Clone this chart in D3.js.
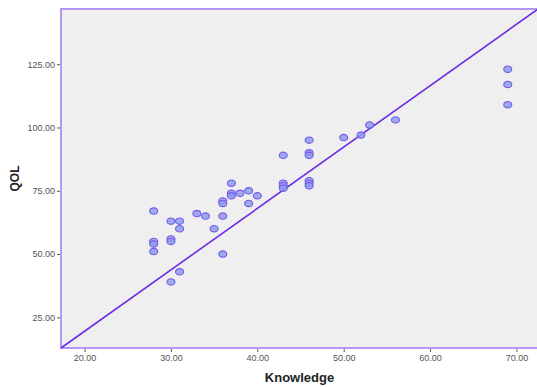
<!DOCTYPE html>
<html>
<head>
<meta charset="utf-8">
<style>
  body { margin: 0; background: #fff; }
  svg { display: block; }
  .tick text { font-family: "Liberation Sans", Arial, sans-serif; font-size: 9px; fill: #555; }
</style>
<title>QOL vs Knowledge</title>
</head>
<body>
<script src="https://cdn.jsdelivr.net/npm/d3@7/dist/d3.min.js"></script>
<script>

var knowledge = [28, 28, 28, 28, 30, 30, 30, 30, 31, 31, 31, 33, 34, 35, 36, 36, 36, 36,
                 37, 37, 37, 38, 39, 39, 40, 43, 43, 43, 43, 46, 46, 46, 46, 46, 46,
                 50, 52, 53, 56, 69, 69, 69];
var qol       = [67, 55, 54, 51, 63, 56, 55, 39, 63, 60, 43, 66, 65, 60, 65, 71, 70, 50,
                 78, 74, 73, 74, 75, 70, 73, 89, 78, 77, 76, 95, 90, 89, 79, 78, 77,
                 96, 97, 101, 103, 123, 117, 109];
var xTicks = [20, 30, 40, 50, 60, 70];
var yTicks = [25, 50, 75, 100, 125];

var width = 537, height = 387;
var margin = {top: 9, right: -1, bottom: 39, left: 61};

var svg = d3.select("body").append("svg")
  .attr("width", width)
  .attr("height", height);

var x = d3.scaleLinear().domain([17.27, 72.5]).range([margin.left, width - margin.right]);
var y = d3.scaleLinear().domain([12.9, 146.8]).range([height - margin.bottom, margin.top]);

// plot background
svg.append("rect")
  .attr("x", x.range()[0])
  .attr("y", y.range()[1])
  .attr("width", x.range()[1] - x.range()[0])
  .attr("height", y.range()[0] - y.range()[1])
  .attr("fill", "#efefef");

// axes
var xAxis = svg.append("g")
  .attr("transform", "translate(0," + y.range()[0] + ")")
  .call(d3.axisBottom(x).tickValues(xTicks).tickSize(4).tickPadding(3).tickFormat(d3.format(".2f")));
var yAxis = svg.append("g")
  .attr("transform", "translate(" + x.range()[0] + ",0)")
  .call(d3.axisLeft(y).tickValues(yTicks).tickSize(4).tickPadding(2).tickFormat(d3.format(".2f")));
[xAxis, yAxis].forEach(function(a) {
  a.select(".domain").remove();
  a.selectAll(".tick line").attr("stroke", "#555");
});

// border
svg.append("path")
  .attr("d", "M" + x.range()[1] + "," + y.range()[1] +
             " H" + x.range()[0] + " V" + y.range()[0] + " H" + x.range()[1])
  .attr("fill", "none")
  .attr("stroke", "#b496f4")
  .attr("stroke-width", 2);

// reference line corner to corner
svg.append("line")
  .attr("x1", x(x.domain()[0])).attr("y1", y(y.domain()[0]))
  .attr("x2", x(x.domain()[1])).attr("y2", y(y.domain()[1]))
  .attr("stroke", "#6c2de6")
  .attr("stroke-width", 1.6);

// points
svg.append("g").selectAll("ellipse")
  .data(knowledge)
  .enter().append("ellipse")
  .attr("cx", function(d) { return x(d); })
  .attr("cy", function(d, i) { return y(qol[i]); })
  .attr("rx", 4)
  .attr("ry", 3.2)
  .attr("fill", "#8aa0e6")
  .attr("fill-opacity", 0.85)
  .attr("stroke", "#7a55f0")
  .attr("stroke-width", 1.1);

// axis titles
svg.append("text")
  .attr("x", (x.range()[0] + x.range()[1]) / 2)
  .attr("y", 382)
  .attr("text-anchor", "middle")
  .style("font-family", "Liberation Sans, Arial, sans-serif")
  .style("font-size", "13px")
  .style("font-weight", "bold")
  .attr("fill", "#222")
  .text("Knowledge");

svg.append("text")
  .attr("transform", "translate(19," + (y.range()[0] + y.range()[1]) / 2 + ") rotate(-90)")
  .attr("text-anchor", "middle")
  .style("font-family", "Liberation Sans, Arial, sans-serif")
  .style("font-size", "12px")
  .style("font-weight", "bold")
  .attr("fill", "#222")
  .text("QOL");

</script>
</body>
</html>
